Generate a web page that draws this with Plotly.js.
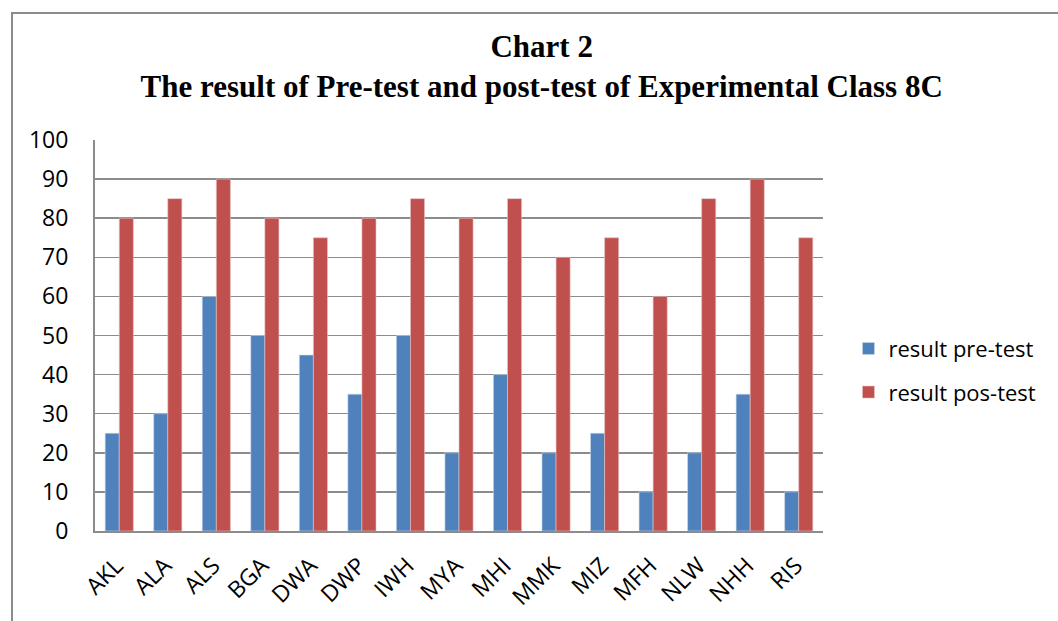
<!DOCTYPE html>
<html>
<head>
<meta charset="utf-8">
<script src="https://cdn.plot.ly/plotly-3.0.1.min.js"></script>
<style>
  html, body { margin: 0; padding: 0; background: #fff; }
  #wrap { position: relative; width: 1058px; height: 621px; overflow: hidden; }
  #chart { width: 1058px; height: 621px; }
  #frame { position: absolute; left: 11px; top: 12px; width: 1200px; height: 800px;
           border: 2px solid #8c8c8c; pointer-events: none; box-sizing: border-box; }
</style>
</head>
<body>
<div id="wrap">
  <div id="chart"></div>
  <div id="frame"></div>
</div>
<script>
const categories = ["AKL","ALA","ALS","BGA","DWA","DWP","IWH","MYA","MHI","MMK","MIZ","MFH","NLW","NHH","RIS"];
const preTest  = [25, 30, 60, 50, 45, 35, 50, 20, 40, 20, 25, 10, 20, 35, 10];
const postTest = [80, 85, 90, 80, 75, 80, 85, 80, 85, 70, 75, 60, 85, 90, 75];
const seriesNames = ["result pre-test", "result pos-test"];
const yTicks = [0, 10, 20, 30, 40, 50, 60, 70, 80, 90, 100];

const traces = [
  { type: "bar", name: seriesNames[0], x: categories, y: preTest,
    legendgroup: "a",
    marker: { color: "#4F81BD", line: { color: "#c9d6e8", width: 0.6 } } },
  { type: "bar", name: seriesNames[1], x: categories, y: postTest,
    legendgroup: "b",
    marker: { color: "#C0504D", line: { color: "#e6c3c2", width: 0.6 } } }
];

const tickFont = { family: "Open Sans, Liberation Sans, sans-serif", size: 23, color: "#000" };

const layout = {
  width: 1058, height: 621,
  margin: { l: 95, r: 235, t: 140, b: 90 },
  paper_bgcolor: "#fff", plot_bgcolor: "#fff",
  barmode: "group", bargap: 0.42, bargroupgap: 0,
  title: {
    text: "<b>Chart 2</b><br><b>The result of Pre-test and post-test of Experimental Class 8C</b>",
    font: { family: "Liberation Serif, Times New Roman, serif", size: 31, color: "#000" },
    x: 0.512, xanchor: "center", y: 0.908, yanchor: "middle"
  },
  xaxis: {
    type: "category",
    tickangle: -45,
    tickfont: tickFont,
    showline: true, linecolor: "#8c8c8c", linewidth: 2,
    showgrid: false, ticks: "", ticklen: 0,
    ticklabelstandoff: 10, ticklabelshift: -3
  },
  yaxis: {
    range: [0, 100], tickvals: yTicks,
    tickfont: tickFont,
    showline: true, linecolor: "#8c8c8c", linewidth: 2,
    showgrid: true, gridcolor: "#8c8c8c", gridwidth: 1.5,
    zeroline: false, ticks: "",
    ticklabelstandoff: 20,
    fixedrange: true
  },
  showlegend: true,
  legend: {
    x: 1.035, xanchor: "left", y: 0.41, yanchor: "middle",
    font: { family: "Open Sans, Liberation Sans, sans-serif", size: 22, color: "#000" },
    traceorder: "grouped", tracegroupgap: 12,
    bgcolor: "rgba(0,0,0,0)"
  }
};

Plotly.newPlot("chart", traces, layout, { displayModeBar: false, staticPlot: true });
</script>
</body>
</html>
